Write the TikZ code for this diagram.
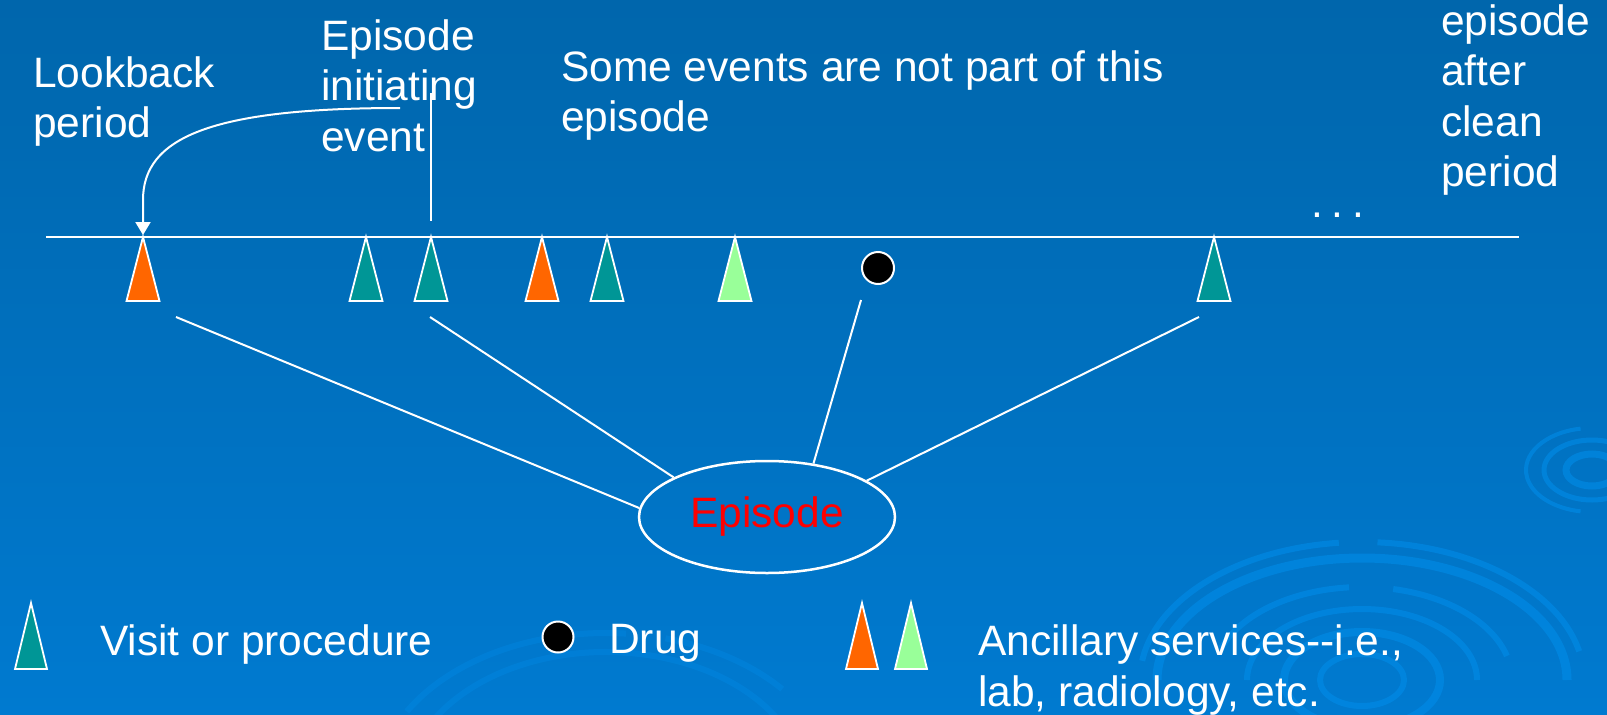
\documentclass[tikz,border=0pt]{standalone}
\usepackage{fontspec}
\setmainfont{Liberation Sans}
\usetikzlibrary{arrows.meta,shapes.geometric,calc}
\definecolor{bgtop}{RGB}{0,102,172}
\definecolor{bgbot}{RGB}{0,122,208}
\definecolor{ripc}{RGB}{0,140,232}
\definecolor{visitc}{RGB}{0,150,150}
\definecolor{ancor}{RGB}{255,102,0}
\definecolor{ancgr}{RGB}{153,255,153}
\begin{document}
\begin{tikzpicture}[x=1pt,y=-1pt,
  txt/.style={text=white, font=\fontsize{42.5}{50.5}\selectfont, inner sep=0pt, align=left, anchor=north west},
  tri/.style={draw=white, line width=1.8pt, line join=miter},
  conn/.style={draw=white, line width=2pt},
  dot/.style={circle, draw=white, fill=black, line width=2pt, inner sep=0pt},
  ripple/.style={draw=ripc, line width=6pt, opacity=0.6}]

\useasboundingbox (0,0) rectangle (1607,715);
\shade[top color=bgtop, bottom color=bgbot] (0,0) rectangle (1607,715);

% background ripples
\begin{scope}
\clip (0,0) rectangle (1607,715);
\coordinate (B) at (1362,680);
\draw[ripple] (B) ++(12:222pt and 138pt) arc[start angle=12, end angle=86, x radius=222pt, y radius=138pt];
\draw[ripple] (B) ++(96:222pt and 138pt) arc[start angle=96, end angle=172, x radius=222pt, y radius=138pt];
\draw[ripple, line width=9pt] (B) ++(0:205pt and 122pt) arc[start angle=0, end angle=180, x radius=205pt, y radius=122pt];
\draw[ripple] (B) ++(15:150pt and 93pt) arc[start angle=15, end angle=78, x radius=150pt, y radius=93pt];
\draw[ripple] (B) ++(95:150pt and 93pt) arc[start angle=95, end angle=160, x radius=150pt, y radius=93pt];
\draw[ripple] (B) ++(0:115pt and 71pt) arc[start angle=0, end angle=180, x radius=115pt, y radius=71pt];
\draw[ripple, line width=8pt] (B) ellipse[x radius=78pt, y radius=48pt];
\draw[ripple] (B) ellipse[x radius=42pt, y radius=26pt];
\coordinate (S) at (1592,470);
\draw[ripple, line width=4pt] (S) ++(100:66pt and 42pt) arc[start angle=100, end angle=260, x radius=66pt, y radius=42pt];
\draw[ripple, line width=5pt] (S) ellipse[x radius=48pt, y radius=30pt];
\draw[ripple, line width=7pt] (S) ellipse[x radius=26pt, y radius=16pt];
\coordinate (M) at (606,790);
\draw[ripple, opacity=0.35] (M) ++(40:230pt and 157pt) arc[start angle=40, end angle=75, x radius=230pt, y radius=157pt];
\draw[ripple, opacity=0.35] (M) ++(85:230pt and 157pt) arc[start angle=85, end angle=150, x radius=230pt, y radius=157pt];
\draw[ripple, opacity=0.35] (M) ++(30:200pt and 138pt) arc[start angle=30, end angle=150, x radius=200pt, y radius=138pt];
\end{scope}

% timeline
\coordinate (tlL) at (46,237);
\coordinate (tlR) at (1519,237);
\draw[conn] (tlL) -- (tlR);

% event triangles
\foreach \x/\c [count=\i] in {143/ancor, 366/visitc, 431/visitc, 542/ancor, 607/visitc, 735/ancgr, 1214/visitc}{
  \coordinate (t\i) at (\x,237);
  \draw[tri, fill=\c] (t\i) -- ++(-16.5,64) -- ++(33,0) -- cycle;
}

% drug
\node[dot, minimum size=32pt] (drug) at (878,268) {};

% episode ellipse
\node[ellipse, draw=white, line width=2.5pt, minimum width=256pt, minimum height=112pt, inner sep=0pt,
      text=red, font=\fontsize{42.5}{50.5}\selectfont] (ep) at (767,517) {\raisebox{-2pt}{Episode}};

% connectors to episode
\coordinate (c1) at (176,317);
\coordinate (c2) at (430,317);
\coordinate (c3) at (861,300);
\coordinate (c4) at (1199,317);
\draw[conn] (c1) -- (ep.176);
\draw[conn] (c2) -- (ep.157);
\draw[conn] (c3) -- (ep.49);
\draw[conn] (c4) -- (ep.20);

% pointer lines
\coordinate (v1) at (431,93);
\coordinate (v2) at (431,221);
\draw[conn] (v1) -- (v2);
\coordinate (a0) at (400,108);
\draw[conn, shorten >=2pt, -{Triangle[width=15pt,length=13pt,fill=white]}] (a0) .. controls (210,108) and (143,138) .. (143,200) -- (t1);

% labels
\node[txt] (lb) at (33,56.5) {Lookback\\period};
\node[txt] (ie) at (321,19.5) {Episode\\initiating\\event};
\node[txt] (se) at (561,50.5) {Some events are not part of this\\episode};
\node[txt] (ne) at (1441,4.5) {episode\\after\\clean\\period};
\node[txt, anchor=base west] (dots) at (1311,217) {.\kern9pt.\kern9pt.};

% legend
\coordinate (lv) at (31,603);
\draw[tri, fill=visitc] (lv) -- ++(-16,66) -- ++(32,0) -- cycle;
\node[txt] (lvt) at (100,624.5) {Visit or procedure};
\node[dot, minimum size=31pt] (ld) at (558,637) {};
\node[txt] (ldt) at (609,624.5) {Drug};
\coordinate (la1) at (862,603);
\coordinate (la2) at (911,603);
\draw[tri, fill=ancor] (la1) -- ++(-16,66) -- ++(32,0) -- cycle;
\draw[tri, fill=ancgr] (la2) -- ++(-16,66) -- ++(32,0) -- cycle;
\node[txt] (lat) at (978,624.5) {Ancillary services-\kern0pt-i.e.,\\lab, radiology, etc.};
\end{tikzpicture}
\end{document}
